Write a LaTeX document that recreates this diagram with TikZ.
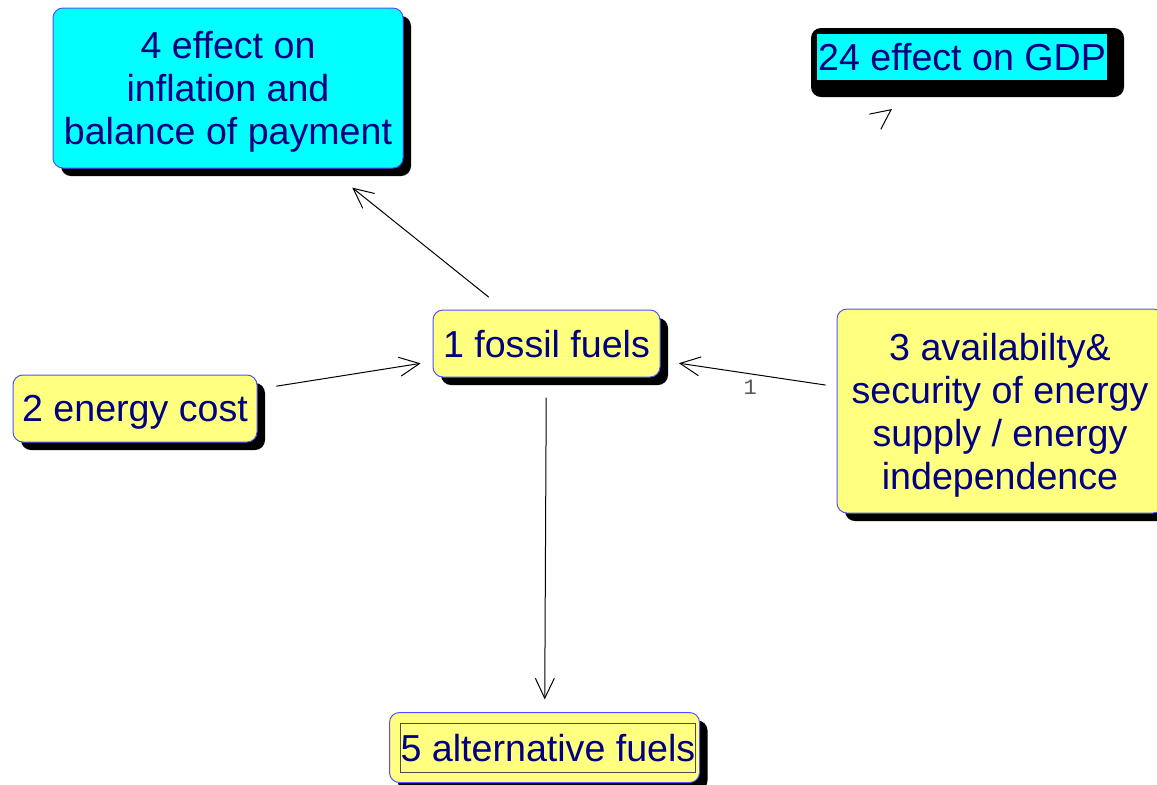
\documentclass[tikz,border=0pt]{standalone}
\usepackage{fontspec}
\setmainfont{Liberation Sans}
\setmonofont{Liberation Mono}
\usetikzlibrary{arrows.meta,shadows}
\definecolor{varfill}{HTML}{FFFF80}
\definecolor{keyfill}{HTML}{00FFFF}
\definecolor{vartext}{HTML}{000080}
\definecolor{varline}{HTML}{5050FF}
\definecolor{linkgray}{HTML}{555555}

\begin{document}
\begin{tikzpicture}[x=0.5pt, y=-0.5pt, >={Straight Barb[length=10pt,width=9.5pt]},
  var/.style={draw=varline, line width=0.5pt, rounded corners=5pt, fill=varfill,
    text=vartext, font=\fontsize{18.8}{21.5}\selectfont, align=center, inner sep=0pt,
    text depth=0pt,
    drop shadow={shadow xshift=4pt, shadow yshift=-4pt, fill=black, opacity=1}},
  conn/.style={->, line width=0.5pt, black},
  linklabel/.style={font=\ttfamily\fontsize{11}{11}\selectfont, text=linkgray, inner sep=0pt}]

  \useasboundingbox (0,0) rectangle (1157,784);

  % Variables
  \node[var, fill=keyfill, minimum width=175pt, minimum height=80pt] (infl) at (228,88)
    {4 effect on\\inflation and\\balance of payment};
  \node[var, minimum width=113.5pt, minimum height=33.5pt] (fossil) at (546.5,343.5) {1 fossil fuels};
  \node[var, minimum width=122pt, minimum height=33.5pt] (cost) at (135,408.5) {2 energy cost};
  \node[var, minimum width=163pt, minimum height=102pt] (supply) at (1000,411)
    {3 availabilty\&\\security of energy\\supply / energy\\independence};
  \node[var, minimum width=155pt, minimum height=35pt] (alt) at (544.5,747.5) {};
  \node[draw=black!70, line width=0.4pt, inner sep=0pt, minimum width=147pt, minimum height=24.5pt,
    text=vartext, text depth=0pt, font=\fontsize{18.8}{21.5}\selectfont] (alttext) at (548,747.5) {5 alternative fuels};

  % GDP box
  \fill[black, rounded corners=5pt] (811,28) rectangle (1124,97);
  \node[fill=keyfill, inner sep=0pt, minimum width=145pt, minimum height=23pt,
    text=vartext, font=\fontsize{18.8}{21.5}\selectfont] (gdp) at (962,57) {24 effect on GDP};

  % Links
  \draw[conn, shorten <=9.8pt, shorten >=15.3pt] (fossil) -- (infl);
  \draw[conn, shorten <=9.5pt, shorten >=6pt] (cost) -- (fossil);
  \draw[conn, shorten <=5.5pt, shorten >=9.3pt] (supply) -- node[linklabel, pos=0.49, below=3pt] (w31) {1} (fossil);
  \draw[conn, shorten <=10pt, shorten >=6.3pt] (fossil) -- (alt);

  % Loose arrow head below GDP
  \coordinate (gdptail) at (890.4,110.2);
  \coordinate (gdptip) at (892,109);
  \draw[conn] (gdptail) -- (gdptip);

\end{tikzpicture}
\end{document}
